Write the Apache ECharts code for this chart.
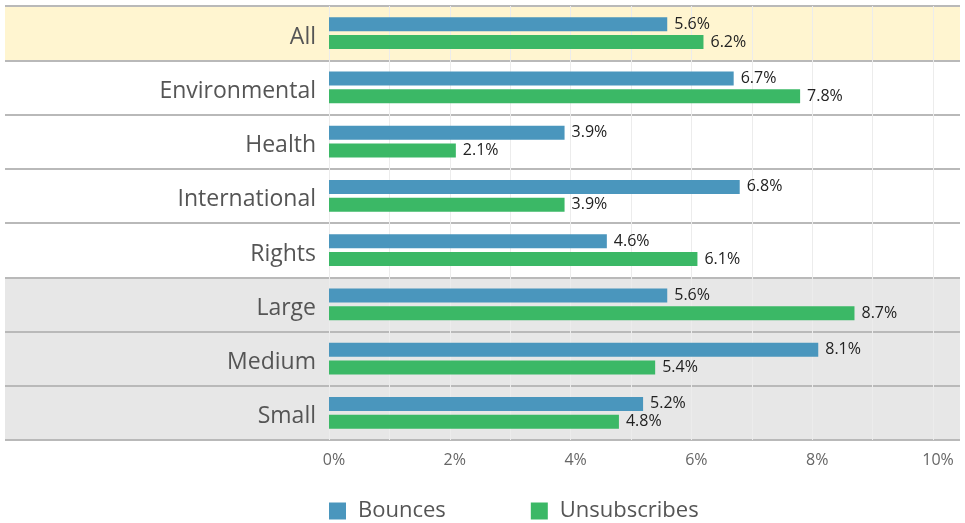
<!DOCTYPE html>
<html>
<head>
<meta charset="utf-8">
<style>
  html, body { margin: 0; padding: 0; background: #fff; }
  #chart { width: 965px; height: 523px; }
</style>
<script src="https://cdn.jsdelivr.net/npm/echarts@6/dist/echarts.min.js"></script>
</head>
<body>
<div id="chart"></div>
<script>
// categories, top to bottom
const categories = ['All', 'Environmental', 'Health', 'International', 'Rights', 'Large', 'Medium', 'Small']
// series values (percent)
const bounces = [5.6, 6.7, 3.9, 6.8, 4.6, 5.6, 8.1, 5.2]
const unsubscribes = [6.2, 7.8, 2.1, 3.9, 6.1, 8.7, 5.4, 4.8]
// row band colours
const rowColors = ['#fff5d0', '#ffffff', '#ffffff', '#ffffff', '#ffffff', '#e7e7e7', '#e7e7e7', '#e7e7e7']

const font = '"Open Sans", sans-serif'
const chart = echarts.init(document.getElementById('chart'))

// shared label style for the bar ends
const valueLabel = {
  show: true,
  position: 'right',
  distance: 7,
  fontFamily: font,
  fontSize: 16,
  color: '#222',
  formatter: p => p.value.toFixed(1) + '%'
}

const option = {
  animation: false,
  legend: {
    left: 329,
    top: 500,
    padding: 0,
    itemWidth: 17,
    itemHeight: 17,
    itemGap: 85,
    icon: 'rect',
    textStyle: { fontFamily: font, fontSize: 22, color: '#555', padding: [0, 0, 0, 7] },
    data: ['Bounces', 'Unsubscribes']
  },
  grid: [
    // background grid: row bands and separators over the whole width
    { left: 5, right: 5, top: 6, bottom: 83, z: 0 },
    // plot grid
    { left: 329, right: 32, top: 6, bottom: 83 }
  ],
  xAxis: [
    { gridIndex: 0, type: 'value', min: 0, max: 1, show: false },
    {
      gridIndex: 1,
      type: 'value',
      min: 0,
      max: 10,
      interval: 1,
      axisLine: { show: false },
      axisTick: { show: false },
      splitLine: { show: true, lineStyle: { color: '#ececec', width: 1 } },
      axisLabel: {
        margin: 12,
        padding: [0, 0, 0, 10],
        fontFamily: font,
        fontSize: 16,
        color: '#666',
        formatter: v => (v % 2 === 0 ? v + '%' : '')
      }
    }
  ],
  yAxis: [
    {
      gridIndex: 0,
      type: 'category',
      inverse: true,
      data: categories,
      z: -1,
      axisLine: { show: false },
      axisTick: { show: false },
      axisLabel: { show: false },
      splitArea: { show: true, areaStyle: { color: rowColors } },
      splitLine: { show: true, lineStyle: { color: '#b9b9b9', width: 2 } }
    },
    {
      gridIndex: 1,
      type: 'category',
      inverse: true,
      data: categories,
      axisLine: { show: false },
      axisTick: { show: false },
      axisLabel: {
        margin: 13,
        formatter: v => '{c|' + v + '}',
        rich: {
          c: { padding: [8, 0, 0, 0], fontFamily: font, fontSize: 23, color: '#555' }
        }
      }
    }
  ],
  series: [
    {
      name: 'Bounces',
      type: 'bar',
      xAxisIndex: 1,
      yAxisIndex: 1,
      data: bounces,
      barWidth: 14,
      barGap: '28%',
      itemStyle: { color: '#4a96bd' },
      label: valueLabel
    },
    {
      name: 'Unsubscribes',
      type: 'bar',
      xAxisIndex: 1,
      yAxisIndex: 1,
      data: unsubscribes,
      barWidth: 14,
      barGap: '28%',
      itemStyle: { color: '#3bb866' },
      label: valueLabel
    }
  ]
}

chart.setOption(option)
</script>
</body>
</html>
